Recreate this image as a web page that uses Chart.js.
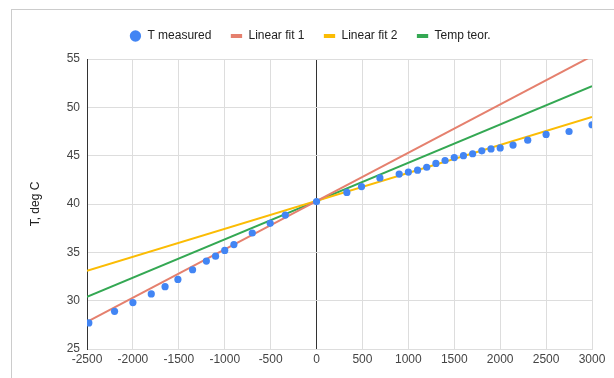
<!DOCTYPE html>
<html>
<head>
<meta charset="utf-8">
<script src="https://cdn.jsdelivr.net/npm/chart.js"></script>
<style>
  html, body { margin: 0; padding: 0; background: #fff; }
  #wrap { position: relative; width: 614px; height: 378px; }
  #frame { position: absolute; left: 11px; top: 9px; right: -2px; bottom: -2px; border-left: 1px solid #ccc; border-top: 1px solid #ccc; }
  canvas { position: absolute; left: 0; top: 0; }
</style>
</head>
<body>
<div id="wrap">
  <div id="frame"></div>
  <canvas id="tempChart" width="614" height="378"></canvas>
</div>
<script>
// measured points
const measX = [-2480, -2200, -2000, -1800, -1650, -1510, -1350, -1200, -1100, -1000, -900, -700, -505, -340, 0,
               330, 490, 690, 900, 1000, 1100, 1200, 1300, 1400, 1500, 1600, 1700, 1800, 1900, 2000, 2140, 2300, 2500, 2750, 3000];
const measY = [27.7, 28.9, 29.8, 30.7, 31.45, 32.2, 33.2, 34.1, 34.6, 35.2, 35.8, 37.0, 38.0, 38.85, 40.25,
               41.2, 41.8, 42.7, 43.1, 43.3, 43.5, 43.8, 44.2, 44.5, 44.8, 45.0, 45.2, 45.5, 45.7, 45.8, 46.1, 46.6, 47.2, 47.5, 48.2];

// straight lines, two end points each
const lineX = [-2500, 3000];
const fit1Y = [27.8, 55.3];
const fit2Y = [33.1, 49.0];
const teorY = [30.4, 52.2];

const xTicks = [-2500, -2000, -1500, -1000, -500, 0, 500, 1000, 1500, 2000, 2500, 3000];
const yTicks = [25, 30, 35, 40, 45, 50, 55];

const FONT = "'Liberation Sans', Arial, sans-serif";
const toPts = (xs, ys) => xs.map((x, i) => ({ x: x, y: ys[i] }));

const lineDs = (label, ys, color) => ({
    label: label,
    data: toPts(lineX, ys),
    showLine: true,
    borderColor: color,
    backgroundColor: color,
    borderWidth: 2,
    pointRadius: 0,
    pointStyle: 'line'
});

// a bit more room under the legend
const legendGap = {
    id: 'legendGap',
    beforeInit(chart) {
        const lg = chart.legend;
        if (!lg) return;
        const fit = lg.fit.bind(lg);
        lg.fit = function() { fit(); this.height += 7; };
    }
};

new Chart(document.getElementById('tempChart'), {
    type: 'scatter',
    data: {
        datasets: [
            {
                label: 'T measured',
                data: toPts(measX, measY),
                backgroundColor: '#4285F4',
                borderColor: '#4285F4',
                pointRadius: 3.6,
                pointBorderWidth: 0,
                pointStyle: 'circle'
            },
            lineDs('Linear fit 1', fit1Y, '#e5806e'),
            lineDs('Linear fit 2', fit2Y, '#FBBC04'),
            lineDs('Temp teor.', teorY, '#34A853')
        ]
    },
    plugins: [legendGap],
    options: {
        responsive: false,
        animation: false,
        layout: { padding: { top: 11, right: 22, left: 28, bottom: 0 } },
        plugins: {
            tooltip: { enabled: false },
            legend: {
                position: 'top',
                labels: {
                    usePointStyle: true,
                    boxHeight: 8,
                    padding: 19,
                    color: '#222',
                    font: { family: FONT, size: 12 },
                    generateLabels: function(chart) {
                        return chart.data.datasets.map((ds, i) => ({
                            text: ds.label,
                            fillStyle: ds.borderColor,
                            strokeStyle: ds.borderColor,
                            lineWidth: i === 0 ? 0 : 4,
                            pointStyle: i === 0 ? 'circle' : 'line',
                            fontColor: '#222',
                            datasetIndex: i
                        }));
                    }
                }
            }
        },
        scales: {
            x: {
                type: 'linear',
                min: -2500,
                max: 3000,
                afterBuildTicks: s => { s.ticks = xTicks.map(v => ({ value: v })); },
                afterFit: s => { s.height = 29; },
                grid: {
                    drawTicks: false,
                    color: c => (c.tick && c.tick.value === 0) ? '#333' : '#ddd',
                    lineWidth: 1
                },
                border: { color: '#ddd' },
                ticks: {
                    color: '#444',
                    padding: 3,
                    maxRotation: 0,
                    font: { family: FONT, size: 12 },
                    callback: v => v
                }
            },
            y: {
                min: 25,
                max: 55,
                afterBuildTicks: s => { s.ticks = yTicks.map(v => ({ value: v })); },
                afterFit: s => { s.width = 59; },
                grid: { drawTicks: false, color: '#ddd', lineWidth: 1 },
                border: { color: '#333' },
                title: {
                    display: true,
                    text: 'T, deg C',
                    color: '#222',
                    padding: { top: 0, bottom: 0 },
                    font: { family: FONT, size: 12 }
                },
                ticks: {
                    color: '#444',
                    padding: 7,
                    font: { family: FONT, size: 12 }
                }
            }
        }
    }
});
</script>
</body>
</html>
